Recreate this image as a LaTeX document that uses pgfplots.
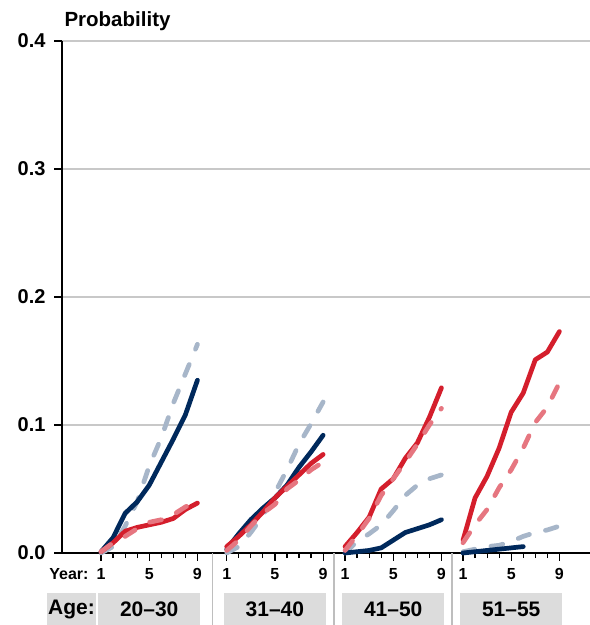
\documentclass[border=0pt]{standalone}
\usepackage{pgfplots}
\usepackage{pgfplotstable}
\pgfplotsset{compat=1.18}
\usepackage{fontspec}
\setmainfont{Liberation Sans}

\definecolor{navy}{RGB}{0,41,92}
\definecolor{redline}{RGB}{212,30,44}
\definecolor{pinkline}{RGB}{230,118,128}
\definecolor{grayline}{RGB}{167,182,201}
\definecolor{gridgray}{RGB}{200,200,200}
\definecolor{boxgray}{RGB}{220,220,220}
\definecolor{sepgray}{RGB}{190,190,190}

% Columns: year, then the four series of each age group
\pgfplotstableread{
year navy  gray  red   pink
1    0.001 0.000 0.001 0.001
2    0.012 0.005 0.008 0.008
3    0.031 0.021 0.017 0.013
4    0.040 0.040 0.020 0.019
5    0.053 0.068 0.022 0.024
6    0.071 0.090 0.024 0.026
7    0.089 0.117 0.027 0.030
8    0.108 0.140 0.034 0.036
9    0.135 0.163 0.039 0.041
}\gA
\pgfplotstableread{
year navy  gray  red   pink
1    0.003 0.000 0.005 0.002
2    0.015 0.005 0.013 0.010
3    0.026 0.016 0.022 0.021
4    0.035 0.029 0.032 0.031
5    0.043 0.047 0.043 0.038
6    0.053 0.065 0.052 0.050
7    0.067 0.085 0.061 0.057
8    0.079 0.101 0.070 0.065
9    0.092 0.118 0.077 0.071
}\gB
\pgfplotstableread{
year navy  gray  red   pink
1    0.000 0.000 0.005 0.002
2    0.001 0.009 0.016 0.014
3    0.002 0.015 0.028 0.027
4    0.004 0.022 0.050 0.045
5    0.010 0.033 0.058 0.058
6    0.016 0.045 0.074 0.071
7    0.019 0.053 0.086 0.085
8    0.022 0.058 0.106 0.100
9    0.026 0.061 0.129 0.113
}\gC
\pgfplotstableread{
year navy  gray  red   pink
1    0.000 0.001 0.010 0.008
2    0.001 0.003 0.043 0.022
3    0.002 0.005 0.060 0.034
4    0.003 0.006 0.082 0.051
5    0.004 0.009 0.110 0.065
6    0.005 0.013 0.125 0.082
7    nan   0.016 0.151 0.102
8    nan   0.018 0.157 0.114
9    nan   0.021 0.173 0.133
}\gD

\pgfplotsset{
  solidline/.style={line width=4.7pt, line cap=round, line join=round},
  dashline/.style={line width=4.7pt, line cap=round, line join=round, dash pattern=on 12pt off 16.5pt},
}

% Draws the four series of one age group, shifted along x
\newcommand{\group}[2]{%
  \addplot[dashline, grayline] table[x expr=\thisrow{year}+#2, y=gray] {#1};
  \addplot[solidline, navy] table[x expr=\thisrow{year}+#2, y=navy] {#1};
  \addplot[solidline, redline] table[x expr=\thisrow{year}+#2, y=red] {#1};
  \addplot[dashline, pinkline] table[x expr=\thisrow{year}+#2, y=pink] {#1};
}

\begin{document}
\begin{tikzpicture}
\begin{axis}[
  name=ax,
  scale only axis, width=528pt, height=512pt,
  xmin=-2.24, xmax=41.58, ymin=0, ymax=0.4,
  axis x line=bottom, axis y line=left,
  x axis line style={-, line width=2.2pt},
  y axis line style={-, line width=1.3pt},
  clip=false,
  tick align=outside,
  major tick length=7.5pt, minor tick length=5pt,
  tick style={black, line width=1.2pt},
  xtick={1,5,9,11.43,15.43,19.43,21.25,25.25,29.25,31.04,35.04,39.04},
  xticklabels={1,5,9,1,5,9,1,5,9,1,5,9},
  minor xtick={2,3,4,6,7,8,12.43,13.43,14.43,16.43,17.43,18.43,22.25,23.25,24.25,26.25,27.25,28.25,32.04,33.04,34.04,36.04,37.04,38.04},
  ytick={0,0.1,0.2,0.3,0.4},
  ymajorgrids, grid style={gridgray, line width=1.5pt},
  /pgf/number format/assume math mode=true,
  y tick label style={/pgf/number format/fixed, /pgf/number format/fixed zerofill, /pgf/number format/precision=1},
  yticklabel style={font=\bfseries\fontsize{20}{20}\selectfont, xshift=-5.5pt},
  xticklabel style={font=\bfseries\fontsize{16}{16}\selectfont, anchor=base, yshift=-19pt},
]
\group{\gA}{0}
\group{\gB}{10.43}
\group{\gC}{20.25}
\group{\gD}{30.04}

% separators between the age groups
\draw[sepgray, line width=1.2pt] (axis cs:10.25,0) -- ([yshift=-72pt]axis cs:10.25,0);
\draw[sepgray, line width=1.2pt] (axis cs:20.34,0) -- ([yshift=-72pt]axis cs:20.34,0);
\draw[sepgray, line width=1.2pt] (axis cs:30.13,0) -- ([yshift=-72pt]axis cs:30.13,0);

\node[anchor=base east, font=\bfseries\fontsize{16}{16}\selectfont, yshift=-26pt] at (axis cs:0.25,0) {Year:};

\tikzset{agebox/.style={fill=boxgray, inner sep=0pt, minimum height=32pt, font=\bfseries\fontsize{21}{21}\selectfont, yshift=-56pt}}
\node[agebox, minimum width=49pt] at (axis cs:-1.45,0) {Age:};
\node[agebox, minimum width=102pt] at (axis cs:5,0) {20–30};
\node[agebox, minimum width=102pt] at (axis cs:15.43,0) {31–40};
\node[agebox, minimum width=102pt] at (axis cs:25.25,0) {41–50};
\node[agebox, minimum width=102pt] at (axis cs:35.04,0) {51–55};

\node[anchor=base west, font=\bfseries\fontsize{20.5}{20.5}\selectfont, xshift=-1pt, yshift=14.3pt] at (rel axis cs:0,1) {Probability};
\end{axis}
\pgfresetboundingbox
\path ([shift={(-62pt,-72pt)}]ax.south west) rectangle ([shift={(0pt,41pt)}]ax.north east);
\end{tikzpicture}
\end{document}
